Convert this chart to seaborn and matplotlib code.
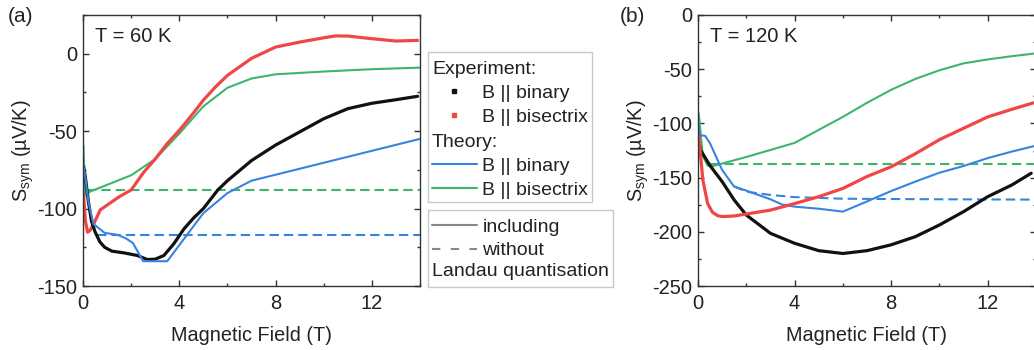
import numpy as np
import pandas as pd
import matplotlib
matplotlib.use("Agg")
import matplotlib.pyplot as plt
import seaborn as sns
from matplotlib.lines import Line2D
from matplotlib.patches import Rectangle
from matplotlib.ticker import MultipleLocator

# ---------------- data : panel (a) T = 60 K ----------------
a_exp_binary_x = [0.03, 0.1, 0.22, 0.35, 0.5, 0.7, 0.9, 1.2, 1.7, 2.26, 2.67, 3.0, 3.36, 3.77, 4.2, 4.6, 5.0, 5.6, 6.0, 7.0, 8.0, 9.0, 10.0, 11.0, 12.0, 13.0, 13.9]
a_exp_binary_y = [-73, -80, -95, -108, -115, -121.5, -125, -127.5, -128.6, -130.3, -132.9, -132.7, -130.3, -122.8, -113, -106, -100, -88, -82, -69, -59, -50.5, -42, -35.5, -32, -29.7, -27.5]

a_exp_bisec_x = [0.02, 0.1, 0.19, 0.3, 0.44, 0.72, 1.1, 1.5, 2.0, 2.5, 3.0, 3.5, 4.0, 4.5, 5.0, 5.5, 6.0, 7.0, 8.0, 9.0, 10.0, 10.5, 11.0, 12.0, 13.0, 13.9]
a_exp_bisec_y = [-90.5, -108, -115.3, -114, -110, -100.8, -96.7, -92.4, -88, -77, -68, -58, -49.5, -40, -30, -21.5, -14, -3, 4.3, 7.5, 10.3, 11.5, 11.4, 9.7, 8.2, 8.6]

a_th_binary_x = [0.04, 0.22, 0.43, 0.9, 1.45, 1.8, 2.07, 2.5, 3.5, 4.56, 5.0, 6.0, 7.0, 14.0]
a_th_binary_y = [-73.4, -94.8, -109.9, -115.7, -117, -119.4, -122.2, -134, -134, -112, -103, -90, -82, -55]
a_th_binary_nolq_x = [0.6, 14.0]
a_th_binary_nolq_y = [-116.8, -116.8]

a_th_bisec_x = [0.02, 0.08, 0.3, 2.0, 3.0, 4.0, 5.0, 6.0, 7.0, 8.0, 10.0, 12.0, 14.0]
a_th_bisec_y = [-59.4, -91.6, -89, -78.5, -68, -51.6, -34, -22, -16, -13.3, -11.5, -10, -9]
a_th_bisec_nolq_x = [0.15, 14.0]
a_th_bisec_nolq_y = [-87.8, -87.8]

# ---------------- data : panel (b) T = 120 K ----------------
b_exp_binary_x = [0.03, 0.1, 0.5, 1.0, 1.5, 2.0, 3.0, 4.0, 5.0, 6.0, 7.0, 8.0, 9.0, 10.0, 11.0, 12.0, 13.0, 13.8]
b_exp_binary_y = [-117, -124.5, -139, -153.7, -170.7, -184.5, -201.4, -210.6, -217.4, -220, -217.4, -212, -204.5, -193.7, -181.4, -167.6, -156.8, -146]

b_exp_bisec_x = [0.03, 0.2, 0.4, 0.6, 0.8, 1.0, 1.5, 2.0, 3.0, 4.0, 5.0, 6.0, 7.0, 8.0, 9.0, 10.0, 11.0, 12.0, 13.0, 13.9]
b_exp_bisec_y = [-110.7, -152, -174, -182, -185, -186, -185.4, -183.6, -180, -174, -167.6, -160, -149, -140, -128, -115, -104.5, -94, -87, -81]

b_th_binary_x = [0.02, 0.1, 0.3, 0.5, 1.0, 1.5, 2.0, 3.0, 3.5, 4.0, 5.0, 6.0, 7.0, 8.0, 9.0, 10.0, 11.0, 12.0, 13.0, 14.0]
b_th_binary_y = [-103, -110.7, -111.6, -118.4, -143, -158.4, -162, -170, -175, -176.8, -178.7, -181.4, -172, -162.4, -153.7, -145.5, -139.3, -132, -126, -120.5]
b_th_binary_nolq_x = [1.5, 2.0, 3.0, 4.0, 6.0, 10.0, 14.0]
b_th_binary_nolq_y = [-158, -163, -166, -168, -169.5, -170, -170.3]

b_th_bisec_x = [0.03, 0.2, 0.4, 0.6, 1.0, 2.0, 3.0, 4.0, 5.0, 6.0, 7.0, 8.0, 9.0, 10.0, 11.0, 12.0, 13.0, 14.0]
b_th_bisec_y = [-90.7, -130, -139, -139.5, -137, -131, -124.5, -118, -106, -94, -81, -69, -59, -51, -44.6, -41, -38, -35.4]
b_th_bisec_nolq_x = [0.5, 14.0]
b_th_bisec_nolq_y = [-137.5, -137.5]

panel_labels = ["(a)", "(b)"]
temps = ["T = 60 K", "T = 120 K"]
ylims = [(-150, 25), (-250, 0)]
xlabel = "Magnetic Field (T)"
ylabel = "S$_{\\mathrm{sym}}$ (\u00b5V/K)"

# ---------------- style ----------------
sns.set_theme(style="ticks")
plt.rcParams["font.family"] = ["Liberation Sans", "DejaVu Sans"]
plt.rcParams["mathtext.fontset"] = "custom"
plt.rcParams["mathtext.rm"] = "Liberation Sans"
plt.rcParams["mathtext.it"] = "Liberation Sans:italic"
plt.rcParams["axes.unicode_minus"] = False
plt.rcParams["text.color"] = "#222222"
plt.rcParams["axes.labelcolor"] = "#222222"

C_BLACK = "#111111"
C_RED = "#f04646"
C_BLUE = "#3784e0"
C_GREEN = "#3db56f"
DASH = (0, (4.5, 2.4))
LW_EXP = 2.3
LW_TH = 1.5

W, H = 1034, 350
fig = plt.figure(figsize=(W / 100, H / 100), dpi=100)
ax1 = fig.add_axes([83 / W, 1 - 286 / H, 337 / W, 271 / H])
ax2 = fig.add_axes([698 / W, 1 - 286 / H, 338 / W, 271 / H])

panels = [
    (ax1, a_exp_binary_x, a_exp_binary_y, a_exp_bisec_x, a_exp_bisec_y,
     a_th_binary_x, a_th_binary_y, a_th_binary_nolq_x, a_th_binary_nolq_y,
     a_th_bisec_x, a_th_bisec_y, a_th_bisec_nolq_x, a_th_bisec_nolq_y),
    (ax2, b_exp_binary_x, b_exp_binary_y, b_exp_bisec_x, b_exp_bisec_y,
     b_th_binary_x, b_th_binary_y, b_th_binary_nolq_x, b_th_binary_nolq_y,
     b_th_bisec_x, b_th_bisec_y, b_th_bisec_nolq_x, b_th_bisec_nolq_y),
]

for i, (ax, ebx, eby, esx, esy, tbx, tby, tbnx, tbny, tsx, tsy, tsnx, tsny) in enumerate(panels):
    sns.lineplot(x=tsnx, y=tsny, ax=ax, color=C_GREEN, lw=LW_TH, linestyle=DASH)
    sns.lineplot(x=tbnx, y=tbny, ax=ax, color=C_BLUE, lw=LW_TH, linestyle=DASH)
    if i == 0:
        sns.lineplot(x=tsx, y=tsy, ax=ax, color=C_GREEN, lw=LW_TH)
        sns.lineplot(x=esx, y=esy, ax=ax, color=C_RED, lw=LW_EXP)
        sns.lineplot(x=ebx, y=eby, ax=ax, color=C_BLACK, lw=LW_EXP)
        sns.lineplot(x=tbx, y=tby, ax=ax, color=C_BLUE, lw=LW_TH)
    else:
        sns.lineplot(x=tsx, y=tsy, ax=ax, color=C_GREEN, lw=LW_TH)
        sns.lineplot(x=tbx, y=tby, ax=ax, color=C_BLUE, lw=LW_TH)
        sns.lineplot(x=ebx, y=eby, ax=ax, color=C_BLACK, lw=LW_EXP)
        sns.lineplot(x=esx, y=esy, ax=ax, color=C_RED, lw=LW_EXP)

    ax.set_xlim(0, 14)
    ax.set_ylim(*ylims[i])
    ax.xaxis.set_major_locator(MultipleLocator(4))
    ax.xaxis.set_minor_locator(MultipleLocator(2))
    ax.yaxis.set_major_locator(MultipleLocator(50))
    ax.yaxis.set_minor_locator(MultipleLocator(25))
    ax.tick_params(which="both", direction="in", top=True, right=True,
                   colors="#333333", labelcolor="#222222", width=1.0)
    ax.tick_params(which="major", length=4.5, labelsize=14.5)
    ax.tick_params(axis="x", which="major", pad=6)
    ax.tick_params(axis="y", which="major", pad=4)
    ax.tick_params(which="minor", length=2.5)
    for s in ax.spines.values():
        s.set_visible(True)
        s.set_color("#333333")
        s.set_linewidth(1.0)
    ax.set_xlabel(xlabel, fontsize=14.3, labelpad=9)
    ax.set_ylabel(ylabel, fontsize=14.3, labelpad=1)
    ax.text(0.035, 0.955, temps[i], transform=ax.transAxes, fontsize=14.5,
            ha="left", va="top")

fig.text(8 / W, 1 - 17 / H, panel_labels[0], fontsize=15, ha="left", va="center")
fig.text(620 / W, 1 - 17 / H, panel_labels[1], fontsize=15, ha="left", va="center")

# ---------------- legends ----------------
common = dict(loc="upper left", frameon=False, borderpad=0.2, borderaxespad=0,
              handlelength=2.3, handletextpad=0.3, labelspacing=0.32,
              fontsize=14, title_fontsize=14, alignment="left")
hA = [Line2D([], [], color=C_BLACK, marker="s", markersize=2.6, linestyle="none"),
      Line2D([], [], color=C_RED, marker="s", markersize=2.6, linestyle="none")]
legA = fig.legend(handles=hA, labels=["B || binary", "B || bisectrix"], title="Experiment:",
                  bbox_to_anchor=(428 / W, 1 - 57 / H), **common)
hB = [Line2D([], [], color=C_BLUE, lw=LW_TH), Line2D([], [], color=C_GREEN, lw=LW_TH)]
legB = fig.legend(handles=hB, labels=["B || binary", "B || bisectrix"], title="Theory:",
                  bbox_to_anchor=(428 / W, 1 - 130 / H), **common)
hC = [Line2D([], [], color="#888888", lw=LW_TH),
      Line2D([], [], color="#888888", lw=LW_TH, linestyle=(0, (4, 5)))]
legC = fig.legend(handles=hC, labels=["including", "without"],
                  bbox_to_anchor=(428 / W, 1 - 214 / H), **common)
fig.text(432 / W, 1 - 272 / H, "Landau quantisation", fontsize=14, ha="left", va="center")

fig.add_artist(Rectangle((428 / W, 1 - 202 / H), 164 / W, 150 / H, transform=fig.transFigure,
                         fill=False, ec="#c8c8c8", lw=1.0))
fig.add_artist(Rectangle((428 / W, 1 - 287 / H), 185 / W, 77 / H, transform=fig.transFigure,
                         fill=False, ec="#c8c8c8", lw=1.0))

fig.savefig("out.png", dpi=100)
